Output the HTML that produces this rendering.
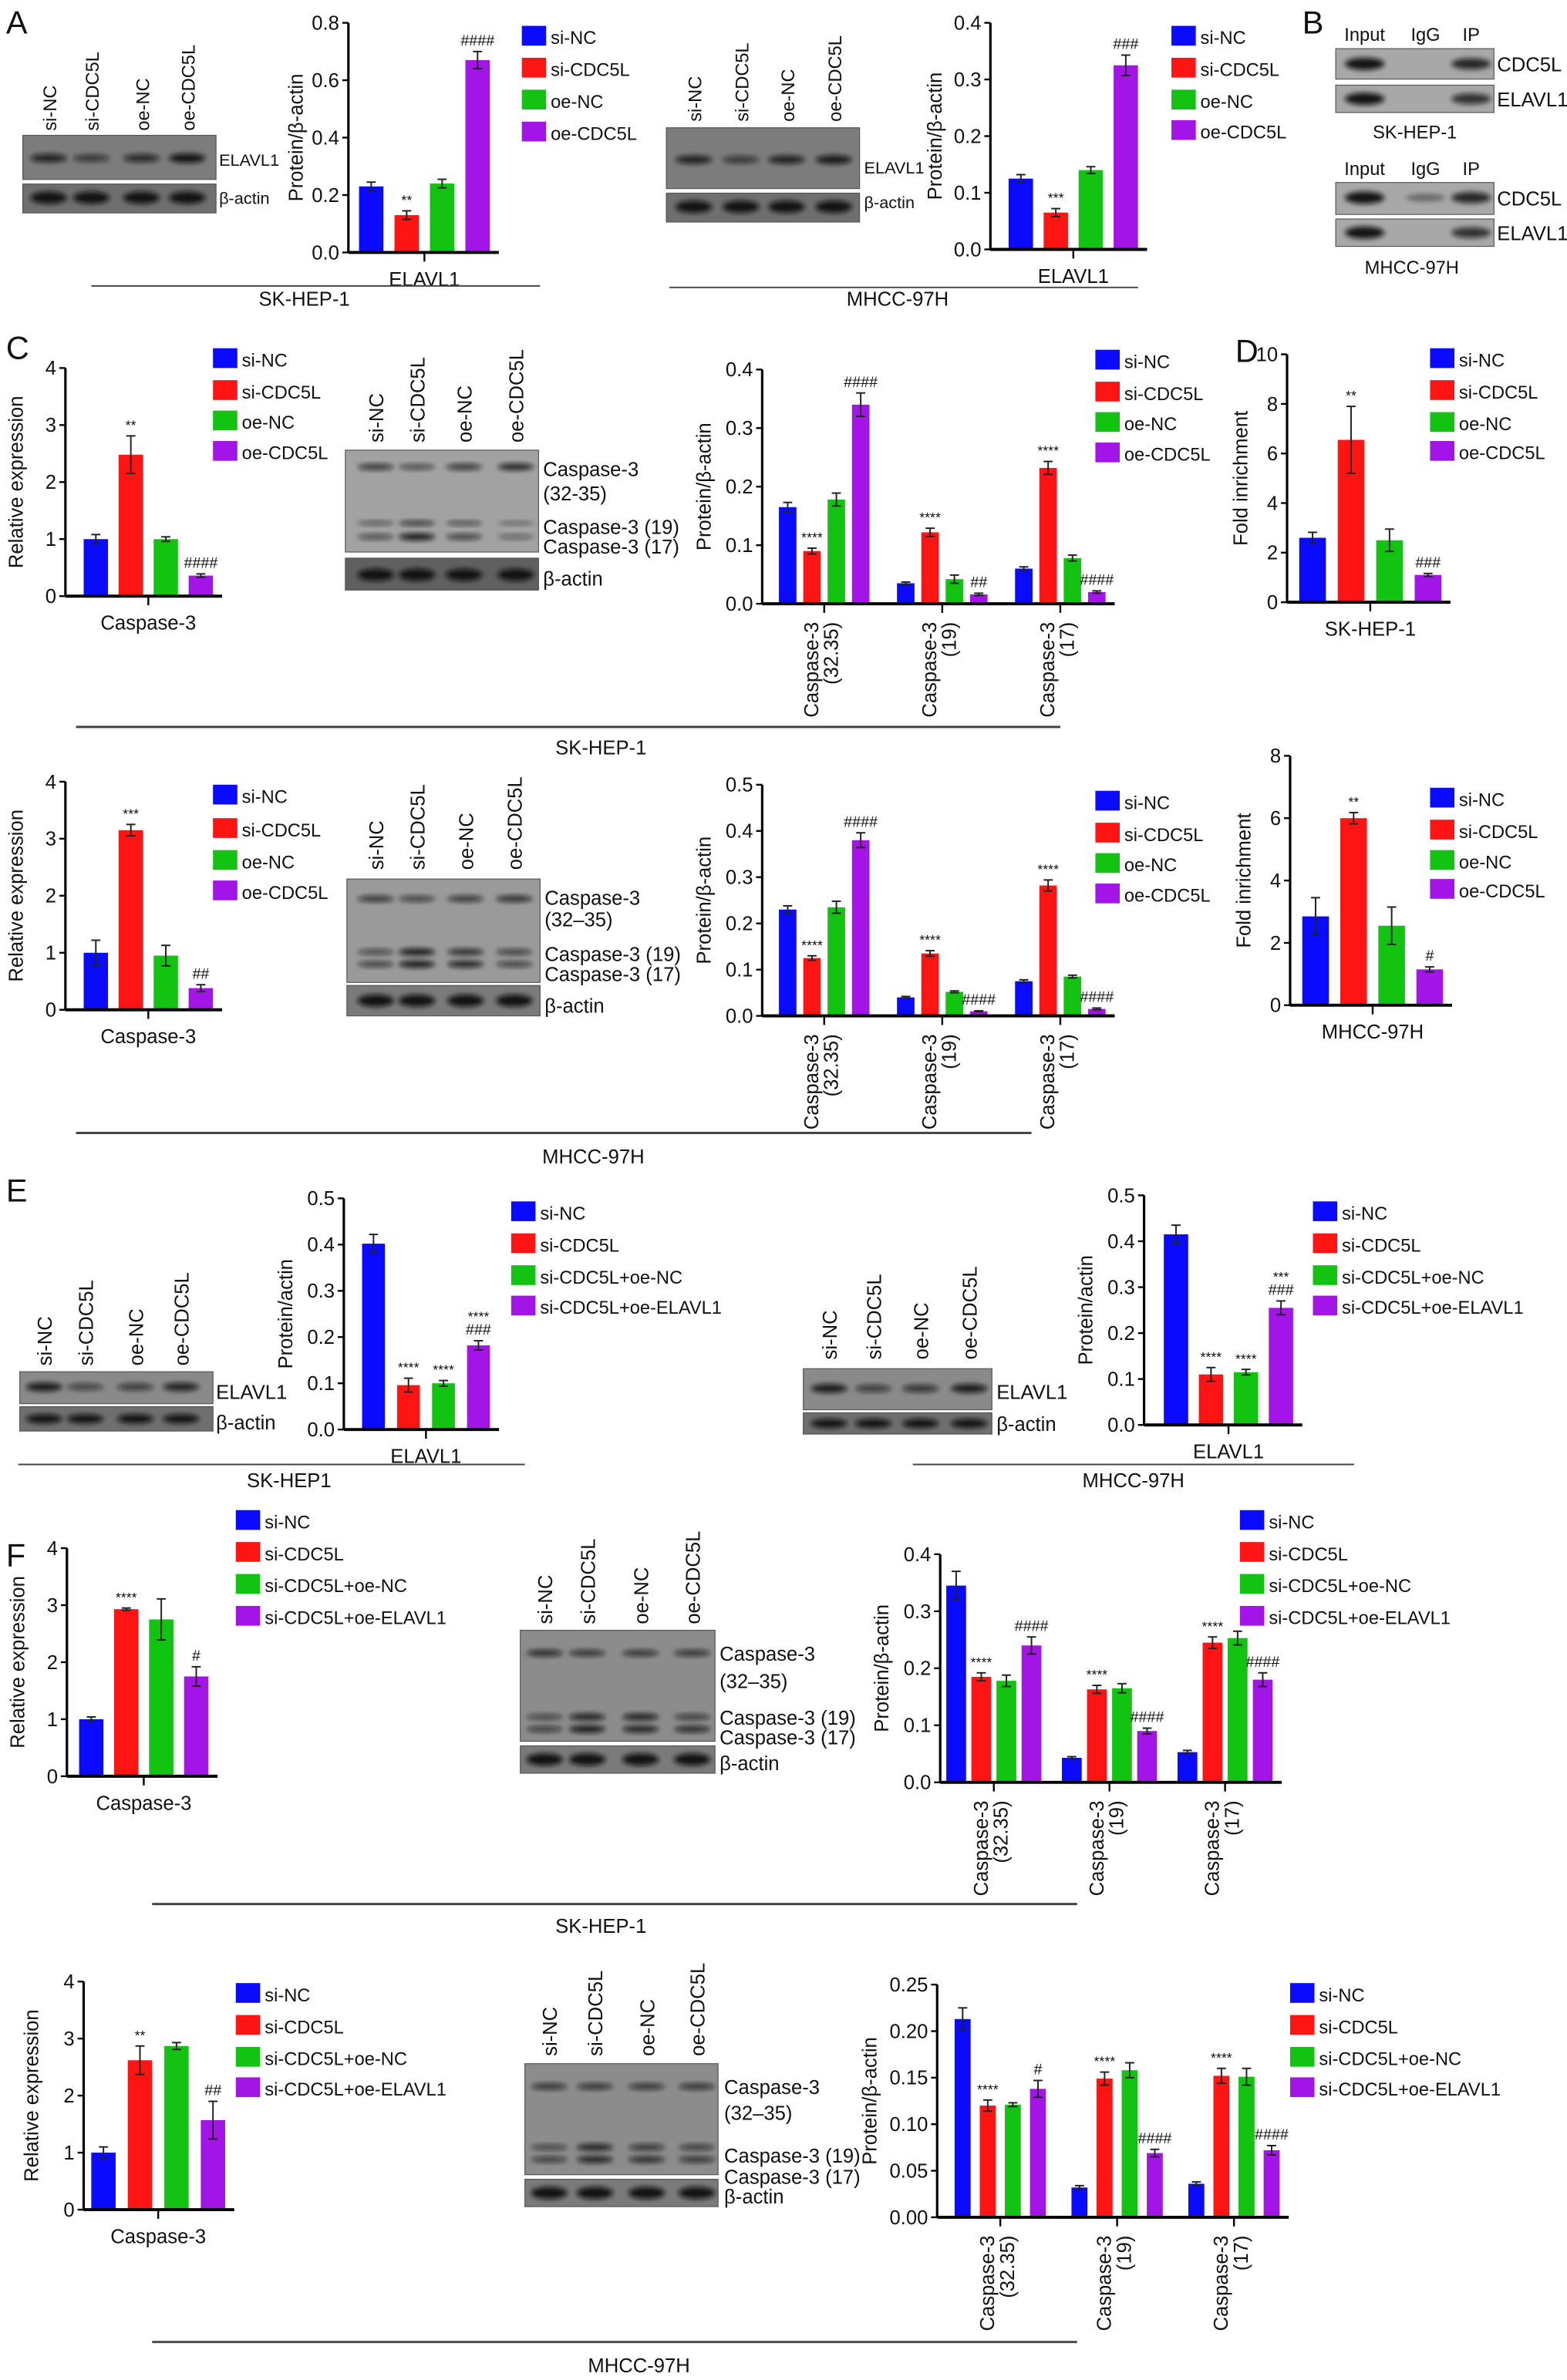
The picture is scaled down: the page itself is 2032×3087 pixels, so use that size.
<!DOCTYPE html>
<html><head><meta charset="utf-8"><style>
html,body{margin:0;padding:0;background:#fff;}
svg{display:block;}
text{font-family:"Liberation Sans",sans-serif;fill:#111;}
</style></head><body>
<svg id="fig" width="2032" height="3087" viewBox="0 0 1030 1565" preserveAspectRatio="none" xmlns="http://www.w3.org/2000/svg">
<defs><filter id="blur" x="-20%" y="-50%" width="140%" height="200%"><feGaussianBlur stdDeviation="1.6"/></filter></defs>
<g id="root"></g>
</svg>
<script>
// ---------- data ----------
const series4 = ['si-NC','si-CDC5L','oe-NC','oe-CDC5L'];
const seriesE = ['si-NC','si-CDC5L','si-CDC5L+oe-NC','si-CDC5L+oe-ELAVL1'];
const colors = ['#0a0aff','#ff1414','#12c312','#a314e6'];
const casGroups = ['Caspase-3|(32.35)','Caspase-3|(19)','Caspase-3|(17)'];

const a1Vals = [[0.23],[0.13],[0.24],[0.67]];
const a1Err = [[0.015],[0.015],[0.015],[0.03]];
const a1Sig = [[''],['**'],[''],['####']];
const a1Ticks = [0,0.2,0.4,0.6,0.8];
const a1Labels = ['0.0','0.2','0.4','0.6','0.8'];

const a2Vals = [[0.125],[0.065],[0.14],[0.325]];
const a2Err = [[0.007],[0.007],[0.006],[0.018]];
const a2Sig = [[''],['***'],[''],['###']];
const a2Ticks = [0,0.1,0.2,0.3,0.4];
const a2Labels = ['0.0','0.1','0.2','0.3','0.4'];

const c1Vals = [[1.0],[2.48],[1.0],[0.36]];
const c1Err = [[0.08],[0.33],[0.04],[0.03]];
const c1Sig = [[''],['**'],[''],['####']];
const relTicks = [0,1,2,3,4];
const relLabels = ['0','1','2','3','4'];

const c2Vals = [[0.165,0.035,0.06],[0.09,0.122,0.232],[0.178,0.042,0.078],[0.34,0.016,0.02]];
const c2Err = [[0.008,0.002,0.003],[0.005,0.007,0.011],[0.011,0.007,0.005],[0.02,0.002,0.002]];
const c2Sig = [['','',''],['****','****','****'],['','',''],['####','##','####']];
const c2Ticks = [0,0.1,0.2,0.3,0.4];
const c2Labels = ['0.0','0.1','0.2','0.3','0.4'];

const d1Vals = [[2.6],[6.55],[2.5],[1.1]];
const d1Err = [[0.22],[1.35],[0.45],[0.06]];
const d1Sig = [[''],['**'],[''],['###']];
const d1Ticks = [0,2,4,6,8,10];
const d1Labels = ['0','2','4','6','8','10'];

const c3Vals = [[1.0],[3.15],[0.95],[0.38]];
const c3Err = [[0.22],[0.1],[0.18],[0.06]];
const c3Sig = [[''],['***'],[''],['##']];

const c4Vals = [[0.23,0.04,0.075],[0.125,0.135,0.282],[0.235,0.052,0.085],[0.38,0.01,0.015]];
const c4Err = [[0.008,0.002,0.003],[0.005,0.006,0.012],[0.013,0.002,0.003],[0.016,0.001,0.002]];
const c4Sig = [['','',''],['****','****','****'],['','',''],['####','####','####']];
const c4Ticks = [0,0.1,0.2,0.3,0.4,0.5];
const c4Labels = ['0.0','0.1','0.2','0.3','0.4','0.5'];

const d2Vals = [[2.85],[6.0],[2.55],[1.15]];
const d2Err = [[0.6],[0.18],[0.6],[0.08]];
const d2Sig = [[''],['**'],[''],['#']];
const d2Ticks = [0,2,4,6,8];
const d2Labels = ['0','2','4','6','8'];

const e1Vals = [[0.402],[0.096],[0.1],[0.182]];
const e1Err = [[0.02],[0.015],[0.006],[0.01]];
const e1Sig = [[''],['****'],['****'],['****|###']];
const eTicks = [0,0.1,0.2,0.3,0.4,0.5];
const eLabels = ['0.0','0.1','0.2','0.3','0.4','0.5'];

const e2Vals = [[0.415],[0.11],[0.115],[0.255]];
const e2Err = [[0.02],[0.015],[0.006],[0.015]];
const e2Sig = [[''],['****'],['****'],['***|###']];

const f1Vals = [[1.0],[2.93],[2.75],[1.75]];
const f1Err = [[0.04],[0.02],[0.36],[0.17]];
const f1Sig = [[''],['****'],[''],['#']];

const f2Vals = [[0.345,0.043,0.053],[0.185,0.163,0.245],[0.178,0.165,0.253],[0.24,0.09,0.18]];
const f2Err = [[0.025,0.002,0.003],[0.007,0.007,0.01],[0.01,0.008,0.012],[0.015,0.005,0.012]];
const f2Sig = [['','',''],['****','****','****'],['','',''],['####','####','####']];
const f2Ticks = [0,0.1,0.2,0.3,0.4];
const f2Labels = ['0.0','0.1','0.2','0.3','0.4'];

const f3Vals = [[1.0],[2.62],[2.87],[1.57]];
const f3Err = [[0.1],[0.25],[0.06],[0.33]];
const f3Sig = [[''],['**'],[''],['##']];

const f4Vals = [[0.213,0.032,0.036],[0.12,0.149,0.152],[0.121,0.158,0.151],[0.138,0.069,0.072]];
const f4Err = [[0.012,0.002,0.002],[0.006,0.007,0.008],[0.002,0.008,0.009],[0.009,0.004,0.005]];
const f4Sig = [['','',''],['****','****','****'],['','',''],['#','####','####']];
const f4Ticks = [0,0.05,0.1,0.15,0.2,0.25];
const f4Labels = ['0.00','0.05','0.10','0.15','0.20','0.25'];

// ---------- helpers ----------
const NS='http://www.w3.org/2000/svg';
const root=document.getElementById('root');
function el(tag,attrs,parent,txt){
  const e=document.createElementNS(NS,tag);
  for(const k in attrs) e.setAttribute(k,attrs[k]);
  if(txt!==undefined) e.textContent=txt;
  (parent||root).appendChild(e);
  return e;
}
function txt(x,y,s,size,anchor,parent,rot,name){
  const t=el('text',{x:x,y:y,'font-size':size||12,'text-anchor':anchor||'start'},parent,s);
  if(rot) t.setAttribute('transform','rotate('+rot+' '+x+' '+y+')');
  
  
  return t;
}

function chart(c){
  const g=el('g',{});
  
  
  const tmax=c.ticks[c.ticks.length-1];
  const yS=v=>c.zero-(c.zero-c.top)*v/tmax;
  const nG=c.vals[0].length;
  const xS=(s,gi)=>c.ax+c.pad+gi*c.gpitch+s*c.pitch;
  const ya=el('line',{x1:c.ax,y1:(c.axTop||c.top),x2:c.ax,y2:c.zero,stroke:'#000','stroke-width':1.6},g);
  
  
  c.ticks.forEach((t,i)=>{
    el('line',{x1:c.ax-4,y1:yS(t),x2:c.ax,y2:yS(t),stroke:'#000','stroke-width':1.2},g);
    txt(c.ax-6,yS(t)+4.5,c.tickLabels[i],13,'end',g,0,'y-tick-label');
  });
  txt(c.ax-(c.ytOff||34),(c.top+c.zero)/2,c.ytitle,c.ytSize||13,'middle',g,-90,'y-axis-title');
  for(let s=0;s<4;s++){
    for(let gi=0;gi<nG;gi++){
      const v=c.vals[s][gi],x=xS(s,gi),y=yS(v);
      const r=el('rect',{x:x,y:y,width:c.bw,height:c.zero-y,fill:colors[s]},g);
      
      
      const e=c.err[s][gi],cx=x+c.bw/2;
      el('line',{x1:cx,y1:yS(v+e),x2:cx,y2:yS(Math.max(0,v-e)),stroke:'#222','stroke-width':1},g);
      el('line',{x1:cx-3,y1:yS(v+e),x2:cx+3,y2:yS(v+e),stroke:'#222','stroke-width':1},g);
      el('line',{x1:cx-3,y1:yS(Math.max(0,v-e)),x2:cx+3,y2:yS(Math.max(0,v-e)),stroke:'#222','stroke-width':1},g);
      const sg=c.sig[s][gi];
      if(sg){
        const parts=sg.split('|');
        parts.forEach((p,pi)=>{
          txt(cx,yS(v+e)-4-(parts.length-1-pi)*9,p,p[0]=='*'?9:10,'middle',g,0,'significance-mark');
        });
      }
    }
  }
  const xEnd=xS(3,nG-1)+c.bw+6;
  const xa=el('line',{x1:c.ax,y1:c.zero,x2:xEnd,y2:c.zero,stroke:'#000','stroke-width':2},g);
  
  
  for(let gi=0;gi<nG;gi++){
    const cx=(xS(0,gi)+xS(3,gi)+c.bw)/2;
    el('line',{x1:cx,y1:c.zero,x2:cx,y2:c.zero+6,stroke:'#000','stroke-width':1.2},g);
    const lab=c.groups[gi].split('|');
    if(c.rotLabels){
      lab.forEach((l,li)=>{
        txt(cx-4+li*13,c.zero+12,l,13,'end',g,-90,'x-tick-label');
      });
    } else {
      txt(cx,c.zero+22,lab[0],13,'middle',g,0,'x-tick-label');
    }
  }
  c.legRows.forEach((ry,i)=>{
    const r=el('rect',{x:c.legX,y:ry-7,width:16,height:13,fill:colors[i]},g);
    
    
    txt(c.legX+19,ry+5,c.series[i],12,'start',g,0,'legend-entry');
  });
}

function blot(b){
  const g=el('g',{});
  
  
  if(b.laneLabels){
    b.lanes.forEach((lx,i)=>txt(lx+5,b.labBottom,b.laneLabels[i],b.labSize||13,'start',g,-90,'lane-label'));
  }
  b.panels.forEach(p=>{
    const r=el('rect',{x:b.x,y:p.y,width:b.w,height:p.h,fill:p.bg||'#8a8a8a',stroke:'#555','stroke-width':0.6},g);
    
    
    p.bands.forEach(bd=>{
      b.lanes.forEach((lx,i)=>{
        const k=bd.k[i]; if(k<=0) return;
        el('ellipse',{cx:lx,cy:bd.y,rx:b.bandW/2,ry:bd.h*(0.6+0.4*k),fill:'#111','fill-opacity':0.35+0.6*k,filter:'url(#blur)'},g);
      });
    });
  });
  b.side.forEach(s=>txt(s[0],s[1],s[2],b.sideSize||13,'start',g,0,'band-label'));
}

function underline(x1,x2,y,label,lx,ly,w){
  const l=el('line',{x1:x1,y1:y,x2:x2,y2:y,stroke:'#444','stroke-width':w||1});
  
  
  txt(lx,ly,label,13,'middle',root,0,'cell-line-label');
}

// ---------- panel letters ----------
[['A',4,22],['B',856,22],['C',4,236],['D',812,238],['E',4,790],['F',4,1030]].forEach(p=>{
  txt(p[1],p[2],p[0],21,'start',root,0,'panel-letter-'+p[0].toLowerCase());
});

// ---------- Panel A ----------
blot({name:'blot-a-skhep1',x:15,w:127,lanes:[32,60,93,123],bandW:24,laneLabels:series4,labBottom:86,labSize:12,sideSize:11,
  panels:[{y:89,h:29,bg:'#7c7c7c',bands:[{y:104,h:3,k:[0.8,0.5,0.7,1]}]},{y:121,h:19,bg:'#6f6f6f',bands:[{y:130,h:4,k:[1,1,1,1]}]}],
  side:[[144,109,'ELAVL1'],[144,134,'β-actin']]});
chart({name:'chart-a-skhep1',ax:229,zero:166,top:15,ticks:a1Ticks,tickLabels:a1Labels,ytitle:'Protein/β-actin',ytOff:30,
  vals:a1Vals,err:a1Err,sig:a1Sig,series:series4,groups:['ELAVL1'],pad:7,pitch:23.3,bw:16,gpitch:0,
  legX:343,legRows:[24,45,66,87]});
underline(60,355,188,'SK-HEP-1',200,201);

blot({name:'blot-a-mhcc97h',x:438,w:127,lanes:[456,487,517,548],bandW:24,laneLabels:series4,labBottom:80,labSize:12,sideSize:11,
  panels:[{y:84,h:40,bg:'#7c7c7c',bands:[{y:105,h:3,k:[0.8,0.5,0.8,0.9]}]},{y:127,h:19,bg:'#6f6f6f',bands:[{y:136,h:4,k:[1,1,1,1]}]}],
  side:[[568,114,'ELAVL1'],[568,137,'β-actin']]});
chart({name:'chart-a-mhcc97h',ax:651,zero:164,top:15,ticks:a2Ticks,tickLabels:a2Labels,ytitle:'Protein/β-actin',ytOff:32,
  vals:a2Vals,err:a2Err,sig:a2Sig,series:series4,groups:['ELAVL1'],pad:12,pitch:23,bw:16,gpitch:0,
  legX:770,legRows:[24,45,66,86]});
underline(440,748,189,'MHCC-97H',590,201);

// ---------- Panel B ----------
[['Input',897],['IgG',937],['IP',967]].forEach(l=>{txt(l[1],27,l[0],12,'middle',root,0,'ip-lane-label');txt(l[1],115,l[0],12,'middle',root,0,'ip-lane-label');});
blot({name:'blot-b-skhep1',x:878,w:104,lanes:[897,937,967],bandW:26,
  panels:[{y:32,h:20,bg:'#a8a8a8',bands:[{y:42,h:4,k:[1,0,0.8]}]},{y:56,h:18,bg:'#a8a8a8',bands:[{y:65,h:4,k:[1,0,0.7]}]}],
  side:[[984,47,'CDC5L'],[984,70,'ELAVL1']]});
txt(930,91,'SK-HEP-1',12,'middle',root,0,'cell-line-label');
blot({name:'blot-b-mhcc97h',x:878,w:104,lanes:[897,937,967],bandW:26,
  panels:[{y:120,h:21,bg:'#a8a8a8',bands:[{y:130,h:4,k:[1,0.05,0.8]}]},{y:144,h:18,bg:'#a8a8a8',bands:[{y:153,h:4,k:[1,0,0.7]}]}],
  side:[[984,135,'CDC5L'],[984,158,'ELAVL1']]});
txt(928,180,'MHCC-97H',12,'middle',root,0,'cell-line-label');

// ---------- Panel C (SK-HEP-1) ----------
chart({name:'chart-c-rel-skhep1',ax:43,zero:392,top:242,ticks:relTicks,tickLabels:relLabels,ytitle:'Relative expression',
  vals:c1Vals,err:c1Err,sig:c1Sig,series:series4,groups:['Caspase-3'],pad:12,pitch:23,bw:16,gpitch:0,ytOff:28,
  legX:140,legRows:[236,257,277,297]});
blot({name:'blot-c-skhep1',x:227,w:127,lanes:[247,274,305,339],bandW:24,laneLabels:series4,labBottom:291,
  panels:[{y:296,h:67,bg:'#a2a2a2',bands:[{y:307,h:2.5,k:[0.6,0.4,0.6,0.8]},{y:344,h:2,k:[0.3,0.6,0.4,0.1]},{y:353,h:2.5,k:[0.4,0.9,0.5,0.15]}]},
          {y:367,h:21,bg:'#606060',bands:[{y:378,h:4,k:[1,1,1,1]}]}],
  side:[[357,313,'Caspase-3'],[357,329,'(32-35)'],[357,351,'Caspase-3 (19)'],[357,364,'Caspase-3 (17)'],[357,385,'β-actin']]});
chart({name:'chart-c-protein-skhep1',ax:501,zero:397,top:243,ticks:c2Ticks,tickLabels:c2Labels,ytitle:'Protein/β-actin',
  vals:c2Vals,err:c2Err,sig:c2Sig,series:series4,groups:casGroups,pad:11,pitch:16,bw:11.5,gpitch:77.6,rotLabels:true,
  legX:720,legRows:[237,258,278,298]});
chart({name:'chart-d-skhep1',ax:846,zero:396,top:233,ticks:d1Ticks,tickLabels:d1Labels,ytitle:'Fold inrichment',
  vals:d1Vals,err:d1Err,sig:d1Sig,series:series4,groups:['SK-HEP-1'],pad:8,pitch:25.3,bw:17.5,gpitch:0,ytOff:26,
  legX:940,legRows:[236,257,278,297]});
underline(50,697,478,'SK-HEP-1',395,496,1.5);

// ---------- Panel C (MHCC-97H) ----------
chart({name:'chart-c-rel-mhcc97h',ax:43,zero:664,top:514,ticks:relTicks,tickLabels:relLabels,ytitle:'Relative expression',
  vals:c3Vals,err:c3Err,sig:c3Sig,series:series4,groups:['Caspase-3'],pad:12,pitch:23,bw:16,gpitch:0,ytOff:28,
  legX:140,legRows:[523,545,566,586]});
blot({name:'blot-c-mhcc97h',x:228,w:127,lanes:[247,274,306,338],bandW:24,laneLabels:series4,labBottom:572,
  panels:[{y:578,h:68,bg:'#9a9a9a',bands:[{y:591,h:2.5,k:[0.6,0.5,0.6,0.7]},{y:626,h:2.5,k:[0.4,0.9,0.7,0.5]},{y:634,h:2.5,k:[0.5,0.9,0.8,0.5]}]},
          {y:648,h:20,bg:'#7a7a7a',bands:[{y:658,h:4,k:[1,1,1,1]}]}],
  side:[[358,595,'Caspase-3'],[358,609,'(32–35)'],[358,632,'Caspase-3 (19)'],[358,645,'Caspase-3 (17)'],[358,666,'β-actin']]});
chart({name:'chart-c-protein-mhcc97h',ax:501,zero:668,top:516,ticks:c4Ticks,tickLabels:c4Labels,ytitle:'Protein/β-actin',
  vals:c4Vals,err:c4Err,sig:c4Sig,series:series4,groups:casGroups,pad:11,pitch:16,bw:11.5,gpitch:77.6,rotLabels:true,
  legX:720,legRows:[527,548,568,588]});
chart({name:'chart-d-mhcc97h',ax:848,zero:661,top:497,ticks:d2Ticks,tickLabels:d2Labels,ytitle:'Fold inrichment',
  vals:d2Vals,err:d2Err,sig:d2Sig,series:series4,groups:['MHCC-97H'],pad:8,pitch:25,bw:17.5,gpitch:0,ytOff:26,
  legX:940,legRows:[525,546,566,585]});
underline(50,678,745,'MHCC-97H',390,765,1.5);

// ---------- Panel E ----------
blot({name:'blot-e-skhep1',x:13,w:127,lanes:[29,56,89,119],bandW:24,laneLabels:series4,labBottom:898,
  panels:[{y:902,h:21,bg:'#8a8a8a',bands:[{y:912,h:3,k:[0.9,0.4,0.5,0.8]}]},{y:925,h:16,bg:'#6f6f6f',bands:[{y:933,h:3,k:[1,1,1,1]}]}],
  side:[[142,920,'ELAVL1'],[142,940,'β-actin']]});
chart({name:'chart-e-skhep1',ax:226,zero:940,top:788,ticks:eTicks,tickLabels:eLabels,ytitle:'Protein/actin',
  vals:e1Vals,err:e1Err,sig:e1Sig,series:seriesE,groups:['ELAVL1'],pad:12,pitch:23,bw:15,gpitch:0,
  legX:336,legRows:[797,818,839,859]});
underline(12,345,963,'SK-HEP1',190,978);
blot({name:'blot-e-mhcc97h',x:528,w:124,lanes:[545,574,605,637],bandW:24,laneLabels:series4,labBottom:894,
  panels:[{y:900,h:27,bg:'#8a8a8a',bands:[{y:913,h:3,k:[0.9,0.5,0.6,0.9]}]},{y:929,h:14,bg:'#6f6f6f',bands:[{y:936,h:3,k:[1,1,1,1]}]}],
  side:[[655,920,'ELAVL1'],[655,941,'β-actin']]});
chart({name:'chart-e-mhcc97h',ax:752,zero:937,top:786,ticks:eTicks,tickLabels:eLabels,ytitle:'Protein/actin',
  vals:e2Vals,err:e2Err,sig:e2Sig,series:seriesE,groups:['ELAVL1'],pad:13,pitch:23,bw:16,gpitch:0,
  legX:863,legRows:[797,818,839,859]});
underline(600,890,963,'MHCC-97H',745,978);

// ---------- Panel F (SK-HEP-1) ----------
chart({name:'chart-f-rel-skhep1',ax:44,zero:1168,top:1018,ticks:relTicks,tickLabels:relLabels,ytitle:'Relative expression',
  vals:f1Vals,err:f1Err,sig:f1Sig,series:seriesE,groups:['Caspase-3'],pad:8,pitch:23,bw:16,gpitch:0,ytOff:28,
  legX:155,legRows:[1000,1021,1042,1063]});
blot({name:'blot-f-skhep1',x:342,w:128,lanes:[358,386,421,455],bandW:24,laneLabels:series4,labBottom:1068,
  panels:[{y:1072,h:73,bg:'#8c8c8c',bands:[{y:1087,h:2.5,k:[0.7,0.6,0.6,0.6]},{y:1129,h:2.5,k:[0.4,0.8,0.8,0.5]},{y:1137,h:2.5,k:[0.5,0.9,0.8,0.7]}]},
          {y:1148,h:18,bg:'#7a7a7a',bands:[{y:1157,h:4,k:[1,1,1,1]}]}],
  side:[[473,1092,'Caspase-3'],[473,1110,'(32–35)'],[473,1134,'Caspase-3 (19)'],[473,1147,'Caspase-3 (17)'],[473,1164,'β-actin']]});
chart({name:'chart-f-protein-skhep1',ax:618,zero:1172,top:1022,ticks:f2Ticks,tickLabels:f2Labels,ytitle:'Protein/β-actin',
  vals:f2Vals,err:f2Err,sig:f2Sig,series:seriesE,groups:casGroups,pad:4,pitch:16.5,bw:13,gpitch:76,rotLabels:true,
  legX:815,legRows:[1000,1021,1042,1063]});
underline(100,708,1252,'SK-HEP-1',395,1271,1.5);

// ---------- Panel F (MHCC-97H) ----------
chart({name:'chart-f-rel-mhcc97h',ax:55,zero:1453,top:1303,ticks:relTicks,tickLabels:relLabels,ytitle:'Relative expression',
  vals:f3Vals,err:f3Err,sig:f3Sig,series:seriesE,groups:['Caspase-3'],pad:5,pitch:24,bw:16,gpitch:0,ytOff:30,
  legX:155,legRows:[1311,1332,1353,1373]});
blot({name:'blot-f-mhcc97h',x:345,w:127,lanes:[361,391,425,458],bandW:24,laneLabels:series4,labBottom:1352,
  panels:[{y:1357,h:73,bg:'#8c8c8c',bands:[{y:1372,h:2.5,k:[0.6,0.6,0.6,0.6]},{y:1412,h:2.5,k:[0.4,0.8,0.6,0.5]},{y:1420,h:2.5,k:[0.5,0.8,0.7,0.6]}]},
          {y:1433,h:18,bg:'#7a7a7a',bands:[{y:1442,h:4,k:[1,1,1,1]}]}],
  side:[[476,1377,'Caspase-3'],[476,1394,'(32–35)'],[476,1422,'Caspase-3 (19)'],[476,1436,'Caspase-3 (17)'],[476,1449,'β-actin']]});
chart({name:'chart-f-protein-mhcc97h',ax:616,zero:1458,top:1305,ticks:f4Ticks,tickLabels:f4Labels,ytitle:'Protein/β-actin',
  vals:f4Vals,err:f4Err,sig:f4Sig,series:seriesE,groups:casGroups,pad:11.5,pitch:16.5,bw:10.5,gpitch:76.8,rotLabels:true,ytOff:40,
  legX:848,legRows:[1311,1332,1353,1373]});
underline(100,708,1540,'MHCC-97H',420,1560,1.5);
</script>
</body></html>
